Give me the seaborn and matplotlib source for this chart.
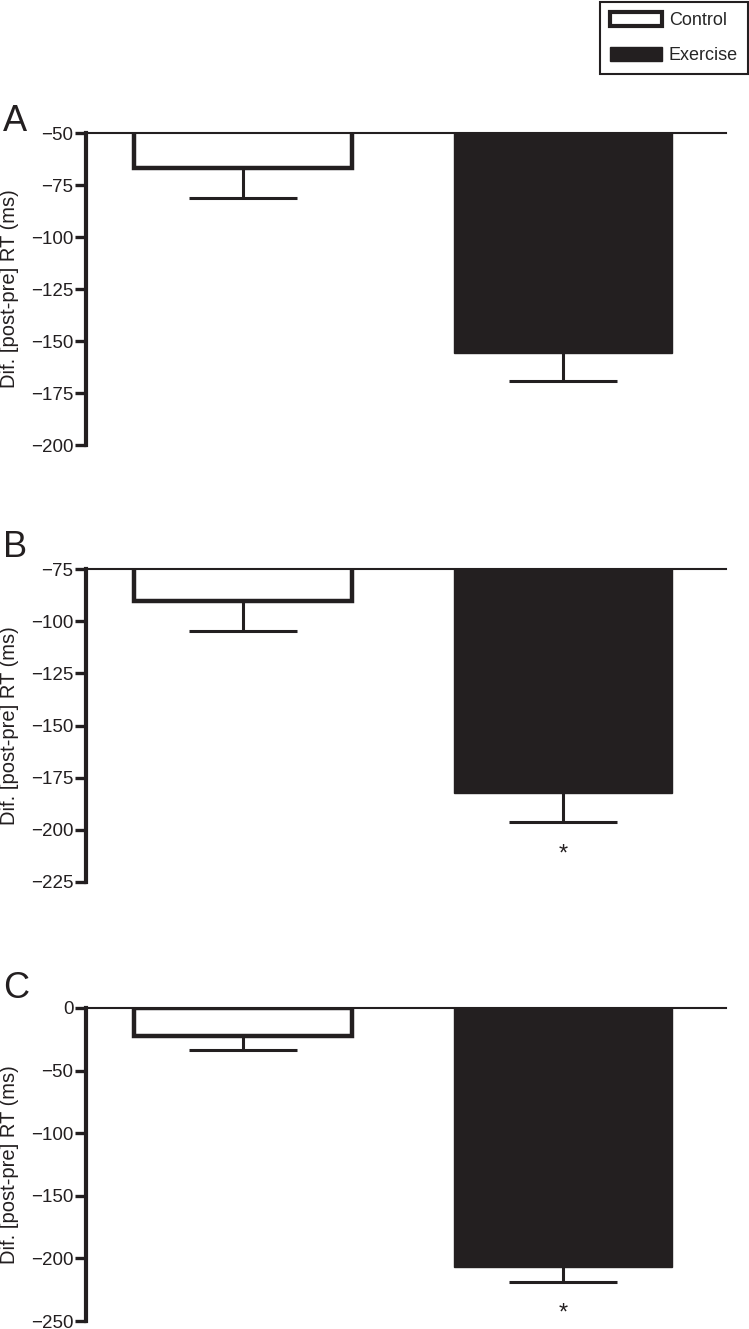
#%% control vs exercise: change in RT (post - pre), three panels
import matplotlib
matplotlib.use('Agg')
import matplotlib.pyplot as plt
from matplotlib.patches import Patch
import seaborn as sns

groups = ['Control', 'Exercise']

# panel A
a_means = [-66.8, -155.8]
a_err = [14.5, 13.4]
# panel B
b_means = [-90.3, -182.3]
b_err = [14.4, 14.0]
# panel C
c_means = [-22.4, -206.9]
c_err = [11.0, 12.0]

panel_letters = ['A', 'B', 'C']
y_limits = [(-200, -50), (-225, -75), (-250, 0)]
y_ticks = [list(range(-200, -49, 25)), list(range(-225, -74, 25)), list(range(-250, 1, 50))]
starred = [False, True, True]

dark = '#231f20'
W, H = 749, 1329

sns.set_style('white')
plt.rcParams['font.family'] = ['Liberation Sans', 'DejaVu Sans']

fig = plt.figure(figsize=(W / 100, H / 100), dpi=100)

# axes boxes in pixels: (top, bottom)
boxes = [(133, 445), (569, 882), (1008, 1321)]
letter_base = [131, 557, 998]


def draw_panel(ax, means, errs, ylim, ticks, star):
    sns.barplot(x=groups, y=means, hue=groups, palette=['white', dark],
                width=0.68, errorbar=None, legend=False, ax=ax, zorder=2)
    ctrl, exer = ax.patches[0], ax.patches[1]
    ctrl.set_facecolor('white')
    ctrl.set_edgecolor(dark)
    ctrl.set_linewidth(3.2)
    exer.set_facecolor(dark)
    exer.set_edgecolor(dark)
    exer.set_linewidth(1)

    # one-sided (downward) error bars
    _, caps, _ = ax.errorbar([0, 1], means, yerr=[errs, [0, 0]], fmt='none',
                             ecolor=dark, elinewidth=2.2, capsize=39,
                             capthick=2.2, zorder=3)
    for cap in caps:
        # hide the zero-length upper caps sitting on the bar ends
        if list(cap.get_ydata()) == list(means):
            cap.set_visible(False)

    if star:
        ax.annotate('*', xy=(1, means[1] - errs[1]), xytext=(0, -23),
                    textcoords='offset points', ha='center', va='center',
                    fontsize=17, color=dark)

    ax.set_xlim(-0.49, 1.51)
    ax.set_ylim(*ylim)
    ax.set_yticks(ticks)
    ax.set_xticks([])
    ax.set_xlabel('')
    ax.set_ylabel('Dif. [post-pre] RT (ms)', fontsize=14.5, color=dark)
    ax.yaxis.set_label_coords(-0.105, 0.5)
    ax.tick_params(axis='y', left=True, length=8, width=2.4, pad=1,
                   labelsize=13.5, color=dark, labelcolor=dark)
    for side in ['right', 'bottom']:
        ax.spines[side].set_visible(False)
    ax.spines['left'].set_linewidth(3)
    ax.spines['left'].set_color(dark)
    ax.spines['top'].set_linewidth(1.5)
    ax.spines['top'].set_color(dark)
    ax.set_facecolor('none')


all_means = [a_means, b_means, c_means]
all_errs = [a_err, b_err, c_err]

for i in range(3):
    top, bot = boxes[i]
    ax = fig.add_axes([86 / W, 1 - bot / H, 640 / W, (bot - top) / H])
    draw_panel(ax, all_means[i], all_errs[i], y_limits[i], y_ticks[i], starred[i])
    fig.text(3 / W, 1 - letter_base[i] / H, panel_letters[i], fontsize=26,
             ha='left', va='baseline', color=dark)

handles = [Patch(facecolor='white', edgecolor=dark, linewidth=3, label='Control'),
           Patch(facecolor=dark, edgecolor=dark, label='Exercise')]
leg = fig.legend(handles=handles, loc='upper right', bbox_to_anchor=(748 / W, 1 - 2 / H),
                 borderaxespad=0, fontsize=13, handlelength=2.85, handleheight=0.85,
                 handletextpad=0.4, labelspacing=0.95, borderpad=0.55,
                 fancybox=False, framealpha=1, edgecolor=dark)
leg.get_frame().set_linewidth(1.5)

fig.savefig('out.png', dpi=100)
